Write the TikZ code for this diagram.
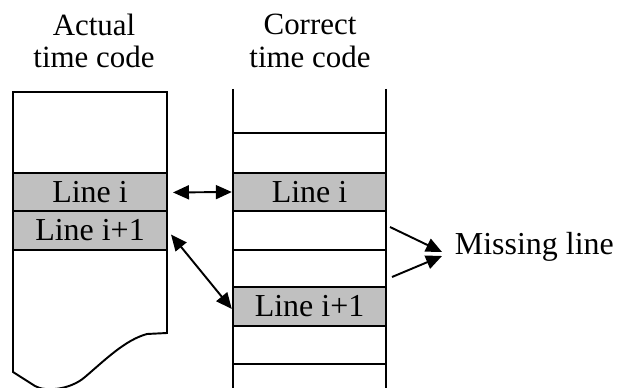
\documentclass[tikz,border=0pt]{standalone}
\usepackage{fontspec}
\setmainfont{Liberation Serif}
\usetikzlibrary{arrows.meta}

\definecolor{bandgray}{RGB}{192,192,192}

\tikzset{
  every node/.style={font=\fontsize{18.2}{18.4}\selectfont},
  heading/.style={align=center, font=\fontsize{17.6}{18.4}\selectfont},
  band/.style={draw, line width=1.1pt, fill=bandgray, inner sep=0pt,
    minimum width=3.07cm, minimum height=0.77cm},
  headtip/.tip={Triangle[length=0.32cm, width=0.28cm]},
  link/.style={line width=1.1pt, headtip-headtip},
  pointer/.style={line width=1.1pt, -headtip},
}

\begin{document}
\begin{tikzpicture}[x=0.02cm, y=-0.02cm, line width=1.1pt]
        \useasboundingbox (0,0) rectangle (628,388);

        % ---- column headings ----------------------------
        \node[heading] (actual)  at (94,41)  {Actual\\time code};
        \node[heading] (correct) at (310,41) {Correct\\time code};

        % ---- actual time code: torn sheet ---------------
        \draw (13,372) -- (13,92) -- (167,92) -- (167,333) -- (147,334)
          .. controls (125,340) and (105,360) .. (85,377)
          .. controls (70,390) and (45,392) .. (35,386) -- cycle;
        \node[band] (actI)  at (90,192.5) {Line i};
        \node[band] (actII) at (90,230.5) {Line i+1};

        % ---- correct time code: open strip --------------
        \draw (233,89) -- (233,388);
        \draw (386,89) -- (386,388);
        \foreach \y in {133,250,364}
          \draw (233,\y) -- (386,\y);
        \node[band] (corI)  at (309.5,192)   {Line i};
        \node[band] (corII) at (309.5,306.5) {Line i+1};

        % ---- matching lines -----------------------------
        \draw[link, shorten <=3pt] (actI.east) -- (corI.west);
        \draw[link, shorten <=3pt] (actII.east) -- ([yshift=-0.05cm]corII.west);

        % ---- missing line -------------------------------
        \node[anchor=west] (missing) at (448,247) {Missing line};
        \coordinate (gapA) at (390,227);
        \coordinate (gapB) at (392,277);
        \draw[pointer] (gapA) -- ([xshift=-0.12cm, yshift=-0.10cm]missing.west);
        \draw[pointer] (gapB) -- ([xshift=-0.12cm, yshift=-0.18cm]missing.west);
\end{tikzpicture}
\end{document}
